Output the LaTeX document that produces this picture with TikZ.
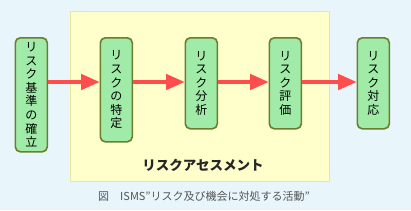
\documentclass[tikz,border=0pt]{standalone}
\usepackage{fontspec}
\newfontfamily\jp{Noto Sans CJK JP}
\usetikzlibrary{arrows.meta}
\definecolor{bgblue}{HTML}{E8F5FB}
\definecolor{yfill}{HTML}{FFFFCC}
\definecolor{yline}{HTML}{E6E6A0}
\definecolor{gfill}{HTML}{A0EBA8}
\definecolor{gline}{HTML}{6B7D2E}
\definecolor{ared}{HTML}{FF4D4D}
\definecolor{capgray}{HTML}{555555}
\tikzset{
  stepbox/.style={draw=gline, fill=gfill, line width=1.6pt, rounded corners=5pt, inner sep=0pt, minimum width=32pt, anchor=north west},
  vtext/.style={font=\jp\fontsize{12}{13.6}\selectfont, align=center},
  flow/.style={draw=ared, line width=4.5pt, -{Triangle[length=19pt,width=15pt]}, shorten >=-0.5pt}
}
\begin{document}
\begin{tikzpicture}[x=1pt,y=-1pt]
\fill[bgblue] (0,0) rectangle (411,210);
\useasboundingbox (0,0) rectangle (411,210);
\draw[yline, fill=yfill, line width=0.8pt] (70.5,11.5) rectangle (329,181);
% boxes
\node[stepbox, minimum height=114pt] (b1) at (14.5,37) {};
\node[vtext] at (b1.center) {リ\\ス\\ク\\基\\準\\の\\確\\立};
\node[stepbox, minimum height=104pt] (b2) at (99.5,37) {};
\node[vtext] at (b2.center) {リ\\ス\\ク\\の\\特\\定};
\node[stepbox, minimum height=91pt] (b3) at (184.5,37) {};
\node[vtext] at (b3.center) {リ\\ス\\ク\\分\\析};
\node[stepbox, minimum height=91pt] (b4) at (268.5,37) {};
\node[vtext] at (b4.center) {リ\\ス\\ク\\評\\価};
\node[stepbox, minimum height=91pt] (b5) at (356.5,37) {};
\node[vtext] at (b5.center) {リ\\ス\\ク\\対\\応};
% arrows
\coordinate (a1s) at (b1.east |- 0,82);
\coordinate (a1e) at (b2.west |- 0,82);
\coordinate (a2s) at (b2.east |- 0,82);
\coordinate (a2e) at (b3.west |- 0,82);
\coordinate (a3s) at (b3.east |- 0,82);
\coordinate (a3e) at (b4.west |- 0,82);
\coordinate (a4s) at (b4.east |- 0,82);
\coordinate (a4e) at (b5.west |- 0,82);
\draw[flow] (a1s) -- (a1e);
\draw[flow] (a2s) -- (a2e);
\draw[flow] (a3s) -- (a3e);
\draw[flow] (a4s) -- (a4e);
\node[font=\jp\bfseries\fontsize{13.5}{15}\selectfont, text=black!85] (ra) at (203,165) {リスクアセスメント};
\node[font=\jp\fontsize{11}{13}\selectfont, text=capgray] (cap) at (204,196) {図　ISMS”リスク及び機会に対処する活動”};
\end{tikzpicture}
\end{document}
